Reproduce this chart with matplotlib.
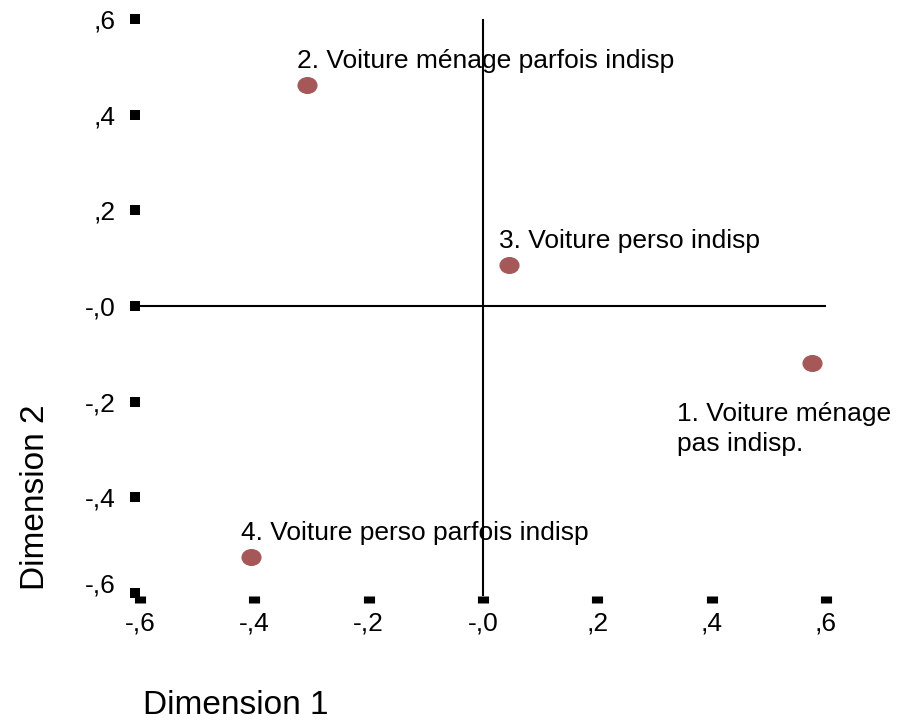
import matplotlib
matplotlib.use('Agg')
import matplotlib.pyplot as plt
from matplotlib.path import Path
from matplotlib.transforms import ScaledTranslation
import numpy as np

# row points (dimension 1, dimension 2)
labels = ['1. Voiture ménage\npas indisp.', '2. Voiture ménage parfois indisp',
          '3. Voiture perso indisp', '4. Voiture perso parfois indisp']
dim1 = [0.575, -0.308, 0.045, -0.406]
dim2 = [-0.119, 0.462, 0.086, -0.525]

ticks = [-0.6, -0.4, -0.2, 0.0, 0.2, 0.4, 0.6]
tick_labels = ['-,6', '-,4', '-,2', '-,0', ',2', ',4', ',6']

plt.rcParams['font.family'] = ['Liberation Sans', 'DejaVu Sans']

fig = plt.figure(figsize=(9.02, 7.2), dpi=100)
ax = fig.add_axes([140 / 902, 124 / 720, 714.6 / 902, 586.4 / 720])
ax.set_xlim(-0.6, 0.65)
ax.set_ylim(-0.6067, 0.62)
for s in ax.spines.values():
    s.set_visible(False)

ax.set_xticks(ticks)
ax.set_xticklabels(tick_labels, fontsize=19)
ax.set_yticks(ticks)
ax.set_yticklabels(tick_labels, fontsize=19)
ax.tick_params(axis='y', direction='out', length=7.2, width=7.2, pad=10.5, color='black')
ax.tick_params(axis='x', direction='out', length=5, width=8, pad=6.5, color='black')
# lowest y label sits a bit higher in the original
lab = ax.get_yticklabels()[0]
lab.set_transform(lab.get_transform() + ScaledTranslation(0, 10 / 100, fig.dpi_scale_trans))

# reference axes through the origin
ax.plot([ax.get_xlim()[0], ticks[-1]], [0, 0], color='black', lw=1.5, solid_capstyle='butt')
ax.plot([0, 0], [ax.get_ylim()[0], ticks[-1]], color='black', lw=1.5, solid_capstyle='butt')

# slightly wide ellipse marker like the original
circ = Path.unit_circle()
ell = Path(circ.vertices * np.array([1.2, 1.0]), circ.codes)
ax.plot(dim1, dim2, linestyle='none', marker=ell, markersize=13.5,
        color='#a65858', zorder=3, clip_on=False)

for i, (x, y, t) in enumerate(zip(dim1, dim2, labels)):
    if i == 0:
        ax.annotate(t, (x, y), xytext=(-135 * 0.72, -39 * 0.72), textcoords='offset points',
                    ha='left', va='top', fontsize=19, linespacing=1.33)
    else:
        ax.annotate(t, (x, y), xytext=(-10 * 0.72, 17 * 0.72), textcoords='offset points',
                    ha='left', va='baseline', fontsize=19)

fig.text(143 / 902, 1 - 714 / 720, 'Dimension 1', fontsize=24, ha='left', va='baseline')
fig.text(36 / 902, 1 - 590 / 720, 'Dimension 2', fontsize=24, ha='center', va='bottom',
         rotation=90)

fig.savefig('out.png', dpi=100)
